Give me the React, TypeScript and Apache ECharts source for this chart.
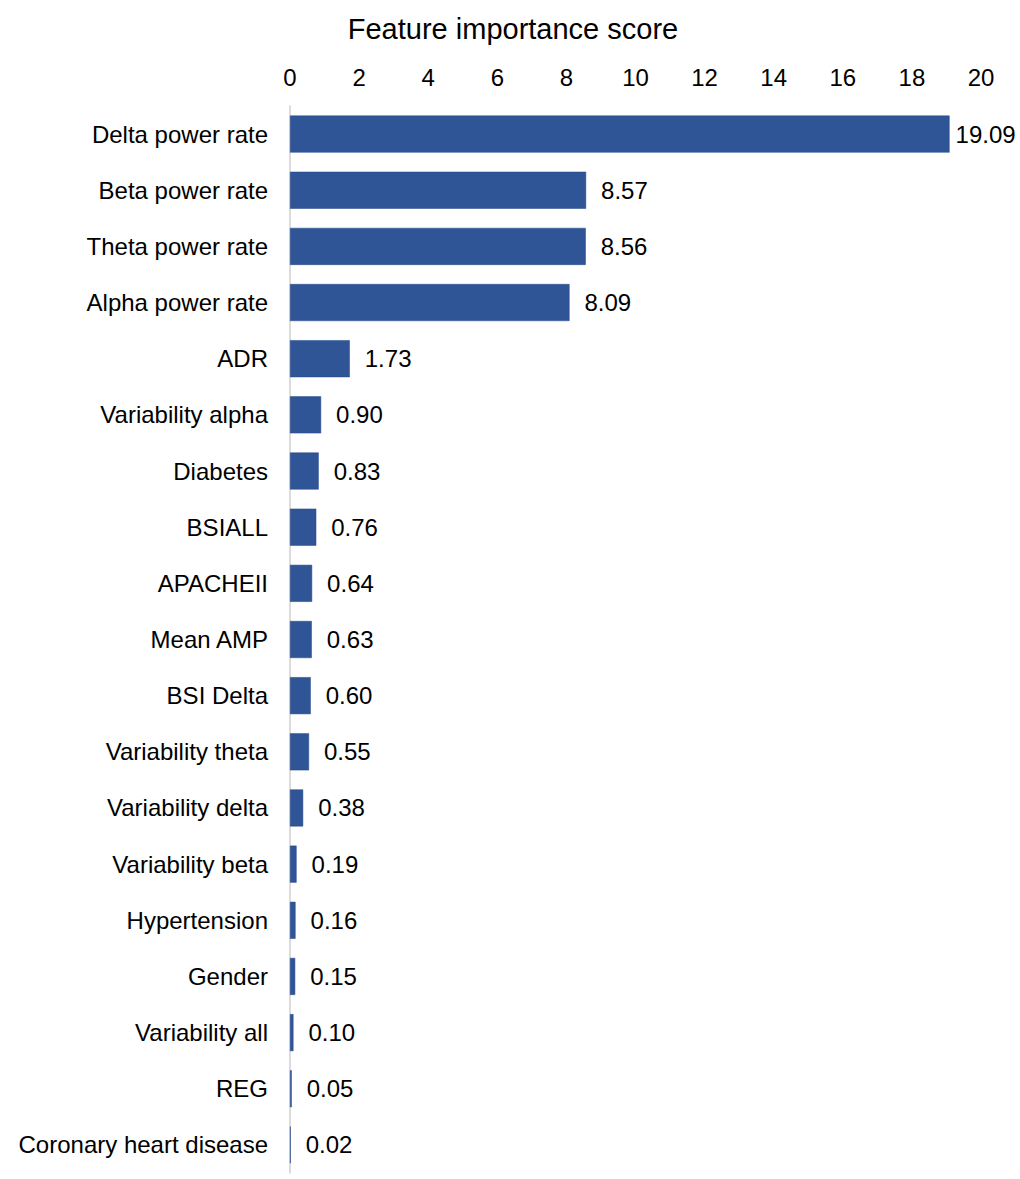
import React, { useEffect, useRef } from "react";
import * as echarts from "echarts";

const categories = [
  "Delta power rate",
  "Beta power rate",
  "Theta power rate",
  "Alpha power rate",
  "ADR",
  "Variability alpha",
  "Diabetes",
  "BSIALL",
  "APACHEII",
  "Mean AMP",
  "BSI Delta",
  "Variability theta",
  "Variability delta",
  "Variability beta",
  "Hypertension",
  "Gender",
  "Variability all",
  "REG",
  "Coronary heart disease",
];
const scores = [19.09, 8.57, 8.56, 8.09, 1.73, 0.9, 0.83, 0.76, 0.64, 0.63, 0.6, 0.55, 0.38, 0.19, 0.16, 0.15, 0.1, 0.05, 0.02];
const axisTitle = "Feature importance score";

export default function App() {
  const ref = useRef<HTMLDivElement>(null);
  useEffect(() => {
    const chart = echarts.init(ref.current!, null, { renderer: "svg" });
    const font = "'Liberation Sans', Arial, sans-serif";
    const data = scores.map((v, i) =>
      i === 0 ? { value: v, label: { distance: 6 } } : v
    );
    chart.setOption({
      animation: false,
      backgroundColor: "#ffffff",
      textStyle: { fontFamily: font },
      title: {
        text: axisTitle,
        left: 508,
        textAlign: "center",
        top: 9,
        textStyle: { fontSize: 29, fontWeight: "normal", color: "#000", fontFamily: font },
      },
      grid: { left: 290, right: 39, top: 106, bottom: 6, containLabel: false },
      xAxis: {
        type: "value",
        position: "top",
        min: 0,
        max: 20,
        interval: 2,
        axisLine: { show: false },
        axisTick: { show: false },
        splitLine: { show: false },
        axisLabel: { fontSize: 24, color: "#000", margin: 17, fontFamily: font },
      },
      yAxis: {
        type: "category",
        inverse: true,
        data: categories,
        axisLine: { show: true, lineStyle: { color: "#d0d0d0", width: 1.5 } },
        axisTick: { show: false },
        axisLabel: { fontSize: 24, color: "#000", margin: 22, fontFamily: font },
      },
      series: [
        {
          type: "bar",
          data,
          barWidth: 37,
          itemStyle: { color: "#2F5597", borderColor: "#24478a", borderWidth: 0.5 },
          label: {
            show: true,
            position: "right",
            distance: 15,
            fontSize: 24,
            color: "#000",
            fontFamily: font,
            formatter: (p: any) => Number(p.value).toFixed(2),
          },
        },
      ],
    });
    return () => chart.dispose();
  }, []);
  return <div ref={ref} style={{ position: "absolute", left: 0, top: 0, width: 1020, height: 1179 }} />;
}
